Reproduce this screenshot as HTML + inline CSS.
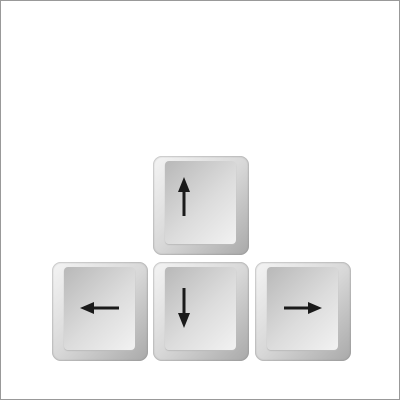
<!DOCTYPE html>
<html><head><style>
body{margin:0;width:400px;height:400px;background:#fff;position:relative;overflow:hidden}
.frame{position:absolute;left:0;top:0;width:398px;height:398px;border:1px solid #999}
.key{position:absolute;width:96px;height:99px;border-radius:9px;
background:linear-gradient(135deg,#f4f4f4 0%,#d8d8d8 50%,#a9a9a9 100%);box-shadow:inset 0 0 2px #888}
.face{position:absolute;left:12px;top:5px;width:71px;height:83px;border-radius:4px;
background:linear-gradient(135deg,#b8b8b8 0%,#dcdcdc 55%,#f2f2f2 100%);box-shadow:0 1px 1px #bbb}
svg{position:absolute;left:0;top:0}
</style></head><body>
<div class="frame"></div>
<div class="key" style="left:153px;top:156px"><div class="face"></div></div>
<div class="key" style="left:52px;top:262px"><div class="face"></div></div>
<div class="key" style="left:153px;top:262px"><div class="face"></div></div>
<div class="key" style="left:255px;top:262px"><div class="face"></div></div>
<svg width="400" height="400">
<g fill="#1a1a1a" stroke="#1a1a1a">
<line x1="184" y1="188" x2="184" y2="216" stroke-width="3"/>
<polygon points="184,177 178,192 190,192" stroke="none"/>
<line x1="184" y1="288" x2="184" y2="316" stroke-width="3"/>
<polygon points="184,328 178,313 190,313" stroke="none"/>
<line x1="90" y1="308" x2="119" y2="308" stroke-width="3"/>
<polygon points="80,308 94,302 94,314" stroke="none"/>
<line x1="284" y1="308" x2="312" y2="308" stroke-width="3"/>
<polygon points="322,308 308,302 308,314" stroke="none"/>
</g></svg>
</body></html>
